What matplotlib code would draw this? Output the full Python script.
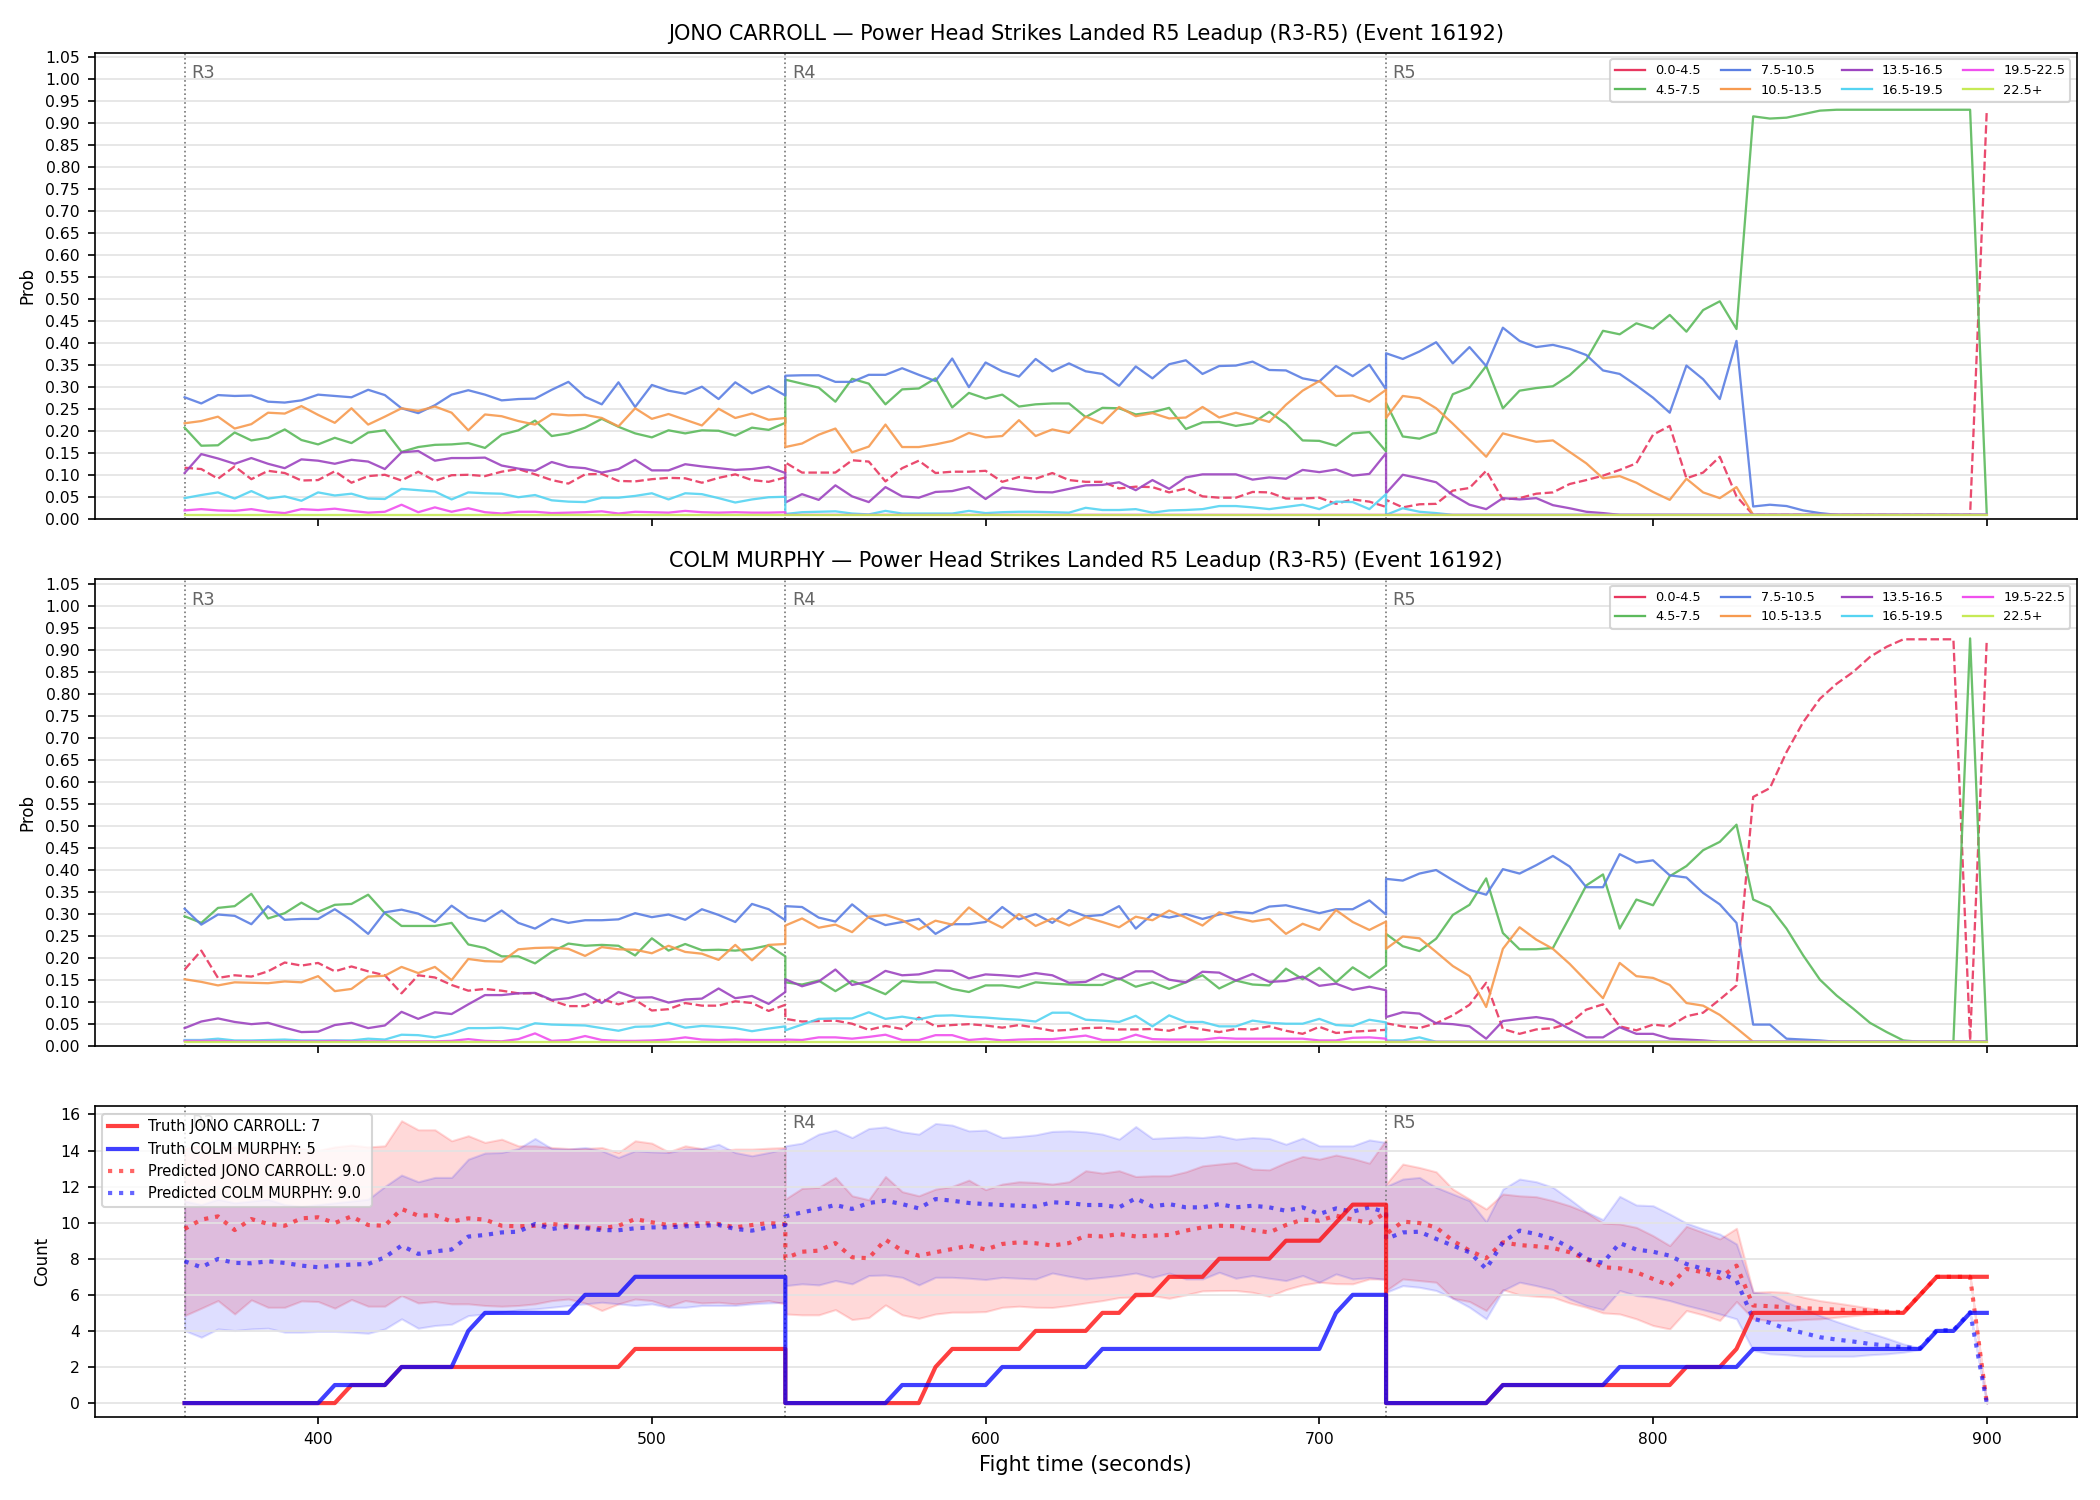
import matplotlib
matplotlib.use("Agg")
import matplotlib.pyplot as plt
import numpy as np
from matplotlib.lines import Line2D

# time grid: 5 s samples, each round sampled end to end (boundary repeated)
rounds = ["R3", "R4", "R5"]
round_starts = [360, 540, 720]
t = np.concatenate([np.arange(s, s + 181, 5) for s in round_starts])

buckets = ["0.0-4.5", "4.5-7.5", "7.5-10.5", "10.5-13.5",
           "13.5-16.5", "16.5-19.5", "19.5-22.5", "22.5+"]
bucket_colors = ["#e8375f", "#5cba5c", "#5b7fe3", "#f79a4f",
                 "#9d45c0", "#55d4f2", "#f050ee", "#c6ea55"]

# ---------------- JONO CARROLL bucket probabilities ----------------
jono_b0 = ([0.117, 0.114, 0.092, 0.120, 0.091, 0.110, 0.105, 0.088, 0.089, 0.109, 0.083, 0.098, 0.101,
            0.088, 0.108, 0.087, 0.100, 0.101, 0.098, 0.108, 0.114, 0.102, 0.089, 0.081, 0.102, 0.103,
            0.087, 0.086, 0.091, 0.094, 0.093, 0.083, 0.094, 0.102, 0.089, 0.085, 0.095]
           + [0.129, 0.106, 0.106, 0.106, 0.134, 0.131, 0.086, 0.116, 0.133, 0.105, 0.108, 0.108, 0.110,
              0.085, 0.096, 0.092, 0.105, 0.089, 0.085, 0.085, 0.070, 0.074, 0.073, 0.061, 0.070, 0.052,
              0.049, 0.049, 0.062, 0.061, 0.047, 0.047, 0.049, 0.035, 0.045, 0.040, 0.028]
           + [0.044, 0.027, 0.034, 0.035, 0.065, 0.071, 0.110, 0.045, 0.048, 0.058, 0.061, 0.080, 0.089,
              0.099, 0.112, 0.127, 0.192, 0.212, 0.093, 0.106, 0.142, 0.052]
           + [0.01] * 14 + [0.93])
jono_b1 = ([0.208, 0.167, 0.168, 0.197, 0.179, 0.185, 0.204, 0.180, 0.170, 0.185, 0.173, 0.197, 0.202,
            0.153, 0.164, 0.169, 0.170, 0.173, 0.162, 0.192, 0.202, 0.224, 0.189, 0.195, 0.208, 0.228,
            0.210, 0.195, 0.186, 0.202, 0.195, 0.202, 0.201, 0.190, 0.208, 0.203, 0.219]
           + [0.317, 0.308, 0.299, 0.267, 0.319, 0.308, 0.261, 0.295, 0.297, 0.320, 0.254, 0.287, 0.274,
              0.283, 0.256, 0.261, 0.263, 0.263, 0.232, 0.253, 0.252, 0.238, 0.243, 0.253, 0.205, 0.220,
              0.221, 0.212, 0.218, 0.244, 0.217, 0.179, 0.178, 0.167, 0.195, 0.198, 0.154]
           + [0.264, 0.188, 0.183, 0.197, 0.284, 0.299, 0.348, 0.252, 0.292, 0.298, 0.302, 0.327, 0.362,
              0.428, 0.420, 0.445, 0.433, 0.464, 0.426, 0.475, 0.495, 0.432, 0.915, 0.910, 0.912, 0.920,
              0.928, 0.930, 0.930, 0.930, 0.930, 0.930, 0.930, 0.930, 0.930, 0.930, 0.010])
jono_b2 = ([0.277, 0.263, 0.282, 0.280, 0.281, 0.267, 0.265, 0.270, 0.283, 0.280, 0.277, 0.294, 0.282,
            0.252, 0.241, 0.259, 0.283, 0.293, 0.283, 0.270, 0.273, 0.274, 0.294, 0.312, 0.278, 0.261,
            0.311, 0.255, 0.305, 0.292, 0.285, 0.301, 0.273, 0.311, 0.286, 0.302, 0.281]
           + [0.326, 0.327, 0.327, 0.312, 0.312, 0.328, 0.328, 0.343, 0.328, 0.314, 0.365, 0.300, 0.356,
              0.336, 0.324, 0.364, 0.336, 0.354, 0.336, 0.330, 0.303, 0.347, 0.320, 0.352, 0.361, 0.330,
              0.348, 0.349, 0.358, 0.339, 0.338, 0.320, 0.313, 0.348, 0.325, 0.351, 0.295]
           + [0.377, 0.364, 0.381, 0.402, 0.354, 0.391, 0.348, 0.435, 0.405, 0.391, 0.396, 0.387, 0.373,
              0.338, 0.330, 0.304, 0.276, 0.242, 0.349, 0.318, 0.273, 0.405, 0.029, 0.033, 0.030, 0.020,
              0.014] + [0.01] * 10)
jono_b3 = ([0.218, 0.223, 0.233, 0.206, 0.216, 0.242, 0.240, 0.257, 0.237, 0.219, 0.252, 0.215, 0.233,
            0.252, 0.246, 0.256, 0.242, 0.202, 0.238, 0.234, 0.223, 0.215, 0.239, 0.236, 0.237, 0.230,
            0.211, 0.252, 0.228, 0.239, 0.226, 0.213, 0.251, 0.230, 0.240, 0.226, 0.230]
           + [0.164, 0.172, 0.192, 0.206, 0.152, 0.165, 0.215, 0.164, 0.164, 0.170, 0.178, 0.196, 0.186,
              0.189, 0.225, 0.189, 0.204, 0.196, 0.233, 0.218, 0.255, 0.234, 0.241, 0.229, 0.231, 0.255,
              0.231, 0.242, 0.232, 0.221, 0.260, 0.292, 0.314, 0.280, 0.281, 0.267, 0.294]
           + [0.230, 0.280, 0.275, 0.252, 0.217, 0.180, 0.142, 0.195, 0.185, 0.176, 0.179, 0.153, 0.127,
              0.093, 0.098, 0.083, 0.062, 0.044, 0.092, 0.061, 0.048, 0.073] + [0.01] * 15)
jono_b4 = ([0.105, 0.148, 0.138, 0.126, 0.139, 0.126, 0.116, 0.136, 0.133, 0.126, 0.135, 0.131, 0.114,
            0.152, 0.155, 0.133, 0.139, 0.139, 0.140, 0.122, 0.115, 0.110, 0.130, 0.119, 0.116, 0.106,
            0.114, 0.135, 0.111, 0.111, 0.125, 0.120, 0.116, 0.112, 0.114, 0.119, 0.105]
           + [0.038, 0.057, 0.044, 0.077, 0.052, 0.039, 0.073, 0.052, 0.049, 0.062, 0.064, 0.073, 0.046,
              0.072, 0.067, 0.062, 0.061, 0.069, 0.077, 0.078, 0.084, 0.066, 0.089, 0.069, 0.095, 0.102,
              0.102, 0.102, 0.090, 0.095, 0.092, 0.112, 0.107, 0.113, 0.099, 0.103, 0.150]
           + [0.059, 0.101, 0.093, 0.084, 0.055, 0.033, 0.023, 0.048, 0.045, 0.048, 0.032, 0.025, 0.017,
              0.014] + [0.01] * 23)
jono_b5 = ([0.048, 0.055, 0.061, 0.047, 0.064, 0.047, 0.052, 0.042, 0.061, 0.054, 0.058, 0.047, 0.046,
            0.069, 0.066, 0.063, 0.045, 0.061, 0.059, 0.058, 0.050, 0.055, 0.043, 0.040, 0.039, 0.049,
            0.049, 0.053, 0.059, 0.045, 0.059, 0.057, 0.048, 0.038, 0.045, 0.050, 0.051]
           + [0.012, 0.016, 0.017, 0.018, 0.013, 0.011, 0.019, 0.013, 0.013, 0.013, 0.013, 0.019, 0.014,
              0.016, 0.017, 0.017, 0.016, 0.015, 0.026, 0.021, 0.021, 0.023, 0.015, 0.020, 0.021, 0.023,
              0.030, 0.030, 0.027, 0.023, 0.028, 0.033, 0.023, 0.040, 0.039, 0.023, 0.057]
           + [0.010, 0.025, 0.017, 0.014] + [0.01] * 33)
jono_b6 = ([0.020, 0.023, 0.020, 0.019, 0.023, 0.017, 0.014, 0.023, 0.021, 0.024, 0.019, 0.015, 0.017,
            0.033, 0.016, 0.027, 0.017, 0.025, 0.016, 0.013, 0.017, 0.017, 0.014, 0.015, 0.016, 0.018,
            0.013, 0.017, 0.016, 0.015, 0.019, 0.016, 0.015, 0.016, 0.015, 0.015, 0.016]
           + [0.01] * 37 + [0.01] * 37)
jono_b7 = [0.01] * 111

# ---------------- COLM MURPHY bucket probabilities ----------------
colm_b0 = ([0.174, 0.217, 0.155, 0.161, 0.158, 0.170, 0.190, 0.183, 0.189, 0.170, 0.181, 0.170, 0.161,
            0.120, 0.161, 0.156, 0.139, 0.126, 0.130, 0.126, 0.120, 0.120, 0.104, 0.091, 0.091, 0.107,
            0.095, 0.105, 0.081, 0.084, 0.098, 0.092, 0.092, 0.102, 0.098, 0.080, 0.094]
           + [0.062, 0.056, 0.057, 0.058, 0.051, 0.037, 0.046, 0.039, 0.065, 0.045, 0.048, 0.050, 0.047,
              0.042, 0.048, 0.042, 0.035, 0.037, 0.041, 0.042, 0.038, 0.038, 0.039, 0.035, 0.045, 0.038,
              0.032, 0.039, 0.038, 0.045, 0.035, 0.028, 0.044, 0.030, 0.033, 0.035, 0.037]
           + [0.052, 0.045, 0.041, 0.052, 0.070, 0.094, 0.144, 0.039, 0.028, 0.038, 0.041, 0.052, 0.083,
              0.095, 0.045, 0.036, 0.049, 0.045, 0.068, 0.076, 0.106, 0.138, 0.566, 0.586, 0.668, 0.736,
              0.789, 0.823, 0.850, 0.884, 0.907, 0.924, 0.924, 0.924, 0.924, 0.013, 0.924])
colm_b1 = ([0.295, 0.280, 0.314, 0.318, 0.346, 0.290, 0.302, 0.326, 0.305, 0.321, 0.323, 0.344, 0.302,
            0.273, 0.273, 0.273, 0.280, 0.231, 0.223, 0.204, 0.204, 0.188, 0.214, 0.233, 0.228, 0.230,
            0.228, 0.206, 0.245, 0.217, 0.232, 0.218, 0.219, 0.217, 0.221, 0.229, 0.204]
           + [0.145, 0.140, 0.149, 0.125, 0.148, 0.134, 0.118, 0.148, 0.145, 0.145, 0.130, 0.123, 0.138,
              0.138, 0.133, 0.145, 0.142, 0.140, 0.139, 0.139, 0.154, 0.135, 0.145, 0.130, 0.145, 0.161,
              0.131, 0.149, 0.140, 0.138, 0.176, 0.152, 0.178, 0.145, 0.179, 0.155, 0.183]
           + [0.255, 0.227, 0.216, 0.244, 0.298, 0.321, 0.381, 0.257, 0.220, 0.220, 0.223, 0.293, 0.365,
              0.390, 0.267, 0.333, 0.320, 0.386, 0.409, 0.445, 0.464, 0.503, 0.333, 0.316, 0.267, 0.206,
              0.151, 0.115, 0.085, 0.053, 0.032, 0.013, 0.010, 0.010, 0.010, 0.926, 0.010])
colm_b2 = ([0.312, 0.276, 0.299, 0.296, 0.277, 0.318, 0.287, 0.289, 0.289, 0.311, 0.286, 0.255, 0.304,
            0.310, 0.301, 0.282, 0.319, 0.292, 0.284, 0.308, 0.280, 0.267, 0.289, 0.280, 0.286, 0.286,
            0.288, 0.302, 0.293, 0.299, 0.287, 0.311, 0.298, 0.282, 0.323, 0.311, 0.286]
           + [0.318, 0.316, 0.292, 0.283, 0.322, 0.292, 0.275, 0.282, 0.289, 0.255, 0.277, 0.277, 0.282,
              0.316, 0.288, 0.300, 0.280, 0.309, 0.295, 0.298, 0.318, 0.267, 0.300, 0.292, 0.300, 0.289,
              0.299, 0.305, 0.302, 0.317, 0.320, 0.311, 0.302, 0.311, 0.311, 0.331, 0.299]
           + [0.380, 0.376, 0.392, 0.400, 0.377, 0.355, 0.344, 0.402, 0.392, 0.411, 0.432, 0.408, 0.361,
              0.361, 0.436, 0.417, 0.422, 0.388, 0.383, 0.348, 0.322, 0.280, 0.049, 0.049, 0.017, 0.015,
              0.013] + [0.01] * 10)
colm_b3 = ([0.152, 0.146, 0.138, 0.145, 0.144, 0.143, 0.147, 0.145, 0.159, 0.125, 0.130, 0.158, 0.160,
            0.180, 0.166, 0.180, 0.150, 0.198, 0.193, 0.192, 0.220, 0.223, 0.224, 0.221, 0.205, 0.225,
            0.220, 0.219, 0.211, 0.228, 0.214, 0.210, 0.196, 0.230, 0.195, 0.230, 0.232]
           + [0.274, 0.290, 0.269, 0.276, 0.259, 0.294, 0.298, 0.286, 0.265, 0.285, 0.276, 0.315, 0.288,
              0.269, 0.300, 0.273, 0.290, 0.274, 0.293, 0.282, 0.270, 0.294, 0.286, 0.308, 0.292, 0.274,
              0.304, 0.292, 0.283, 0.289, 0.255, 0.278, 0.264, 0.309, 0.282, 0.264, 0.283]
           + [0.221, 0.249, 0.245, 0.214, 0.182, 0.159, 0.089, 0.221, 0.270, 0.242, 0.221, 0.187, 0.148,
              0.109, 0.189, 0.159, 0.155, 0.139, 0.098, 0.092, 0.071, 0.041] + [0.01] * 15)
colm_b4 = ([0.041, 0.056, 0.063, 0.055, 0.050, 0.053, 0.042, 0.032, 0.033, 0.048, 0.053, 0.041, 0.047,
            0.078, 0.062, 0.077, 0.073, 0.095, 0.116, 0.116, 0.120, 0.121, 0.105, 0.109, 0.119, 0.098,
            0.123, 0.110, 0.111, 0.099, 0.106, 0.108, 0.131, 0.109, 0.114, 0.096, 0.123]
           + [0.152, 0.136, 0.147, 0.174, 0.139, 0.147, 0.171, 0.161, 0.163, 0.172, 0.171, 0.154, 0.163,
              0.161, 0.158, 0.166, 0.161, 0.144, 0.146, 0.164, 0.152, 0.170, 0.170, 0.151, 0.145, 0.169,
              0.167, 0.149, 0.164, 0.146, 0.148, 0.158, 0.137, 0.142, 0.128, 0.135, 0.127]
           + [0.066, 0.077, 0.074, 0.052, 0.050, 0.045, 0.017, 0.057, 0.062, 0.066, 0.060, 0.039, 0.020,
              0.020, 0.043, 0.028, 0.028, 0.017, 0.015, 0.013] + [0.01] * 17)
colm_b5 = ([0.014, 0.014, 0.017, 0.013, 0.013, 0.014, 0.015, 0.013, 0.013, 0.013, 0.013, 0.017, 0.015,
            0.026, 0.025, 0.020, 0.028, 0.041, 0.041, 0.042, 0.039, 0.052, 0.049, 0.048, 0.047, 0.041,
            0.035, 0.044, 0.045, 0.053, 0.042, 0.046, 0.044, 0.041, 0.034, 0.040, 0.045]
           + [0.036, 0.049, 0.062, 0.063, 0.063, 0.077, 0.062, 0.067, 0.061, 0.069, 0.070, 0.067, 0.065,
              0.062, 0.060, 0.056, 0.076, 0.076, 0.060, 0.058, 0.055, 0.069, 0.045, 0.070, 0.055, 0.055,
              0.045, 0.045, 0.058, 0.053, 0.051, 0.051, 0.062, 0.048, 0.046, 0.060, 0.054]
           + [0.013, 0.013, 0.020] + [0.01] * 34)
colm_b6 = ([0.012, 0.012, 0.012, 0.011, 0.011, 0.011, 0.011, 0.011, 0.011, 0.012, 0.011, 0.011, 0.011,
            0.011, 0.011, 0.011, 0.012, 0.016, 0.012, 0.011, 0.016, 0.029, 0.012, 0.014, 0.023, 0.014,
            0.012, 0.012, 0.013, 0.015, 0.020, 0.015, 0.014, 0.015, 0.014, 0.014, 0.014]
           + [0.015, 0.014, 0.020, 0.020, 0.017, 0.021, 0.026, 0.014, 0.014, 0.025, 0.025, 0.014, 0.017,
              0.013, 0.015, 0.016, 0.016, 0.020, 0.024, 0.014, 0.014, 0.026, 0.016, 0.015, 0.015, 0.015,
              0.019, 0.017, 0.017, 0.017, 0.017, 0.017, 0.013, 0.013, 0.019, 0.020, 0.017]
           + [0.01] * 37)
colm_b7 = [0.01] * 111

# ---------------- cumulative counts ----------------
jono_truth = ([0, 0, 0, 0, 0, 0, 0, 0, 0, 0, 1, 1, 1, 2, 2, 2, 2, 2, 2, 2, 2, 2, 2, 2, 2, 2, 2,
               3, 3, 3, 3, 3, 3, 3, 3, 3, 3]
              + [0, 0, 0, 0, 0, 0, 0, 0, 0, 2, 3, 3, 3, 3, 3, 4, 4, 4, 4, 5, 5, 6, 6, 7, 7, 7, 8,
                 8, 8, 8, 9, 9, 9, 10, 11, 11, 11]
              + [0, 0, 0, 0, 0, 0, 0, 1, 1, 1, 1, 1, 1, 1, 1, 1, 1, 1, 2, 2, 2, 3, 5, 5, 5, 5, 5,
                 5, 5, 5, 5, 5, 6, 7, 7, 7, 7])
colm_truth = ([0, 0, 0, 0, 0, 0, 0, 0, 0, 1, 1, 1, 1, 2, 2, 2, 2, 4, 5, 5, 5, 5, 5, 5, 6, 6, 6,
               7, 7, 7, 7, 7, 7, 7, 7, 7, 7]
              + [0, 0, 0, 0, 0, 0, 0, 1, 1, 1, 1, 1, 1, 2, 2, 2, 2, 2, 2, 3, 3, 3, 3, 3, 3, 3, 3,
                 3, 3, 3, 3, 3, 3, 5, 6, 6, 6]
              + [0, 0, 0, 0, 0, 0, 0, 1, 1, 1, 1, 1, 1, 1, 2, 2, 2, 2, 2, 2, 2, 2, 3, 3, 3, 3, 3,
                 3, 3, 3, 3, 3, 3, 4, 4, 5, 5])

jono_pred = ([9.65, 10.17, 10.35, 9.59, 10.20, 9.93, 9.83, 10.24, 10.30, 9.98, 10.35, 9.87, 9.83,
              10.76, 10.39, 10.42, 10.06, 10.24, 10.17, 9.83, 9.80, 9.83, 9.93, 9.83, 9.74, 9.69,
              9.83, 10.20, 10.02, 9.87, 9.89, 9.98, 9.93, 9.74, 9.87, 9.98, 9.91]
             + [8.03, 8.39, 8.45, 8.87, 8.08, 8.03, 9.06, 8.45, 8.17, 8.36, 8.54, 8.73, 8.51, 8.82,
                8.91, 8.86, 8.73, 8.87, 9.28, 9.24, 9.37, 9.24, 9.28, 9.32, 9.56, 9.74, 9.83, 9.80,
                9.59, 9.46, 9.87, 10.17, 10.11, 10.39, 10.17, 9.98, 10.57]
             + [9.37, 10.06, 9.98, 9.74, 9.00, 8.45, 8.03, 8.91, 8.76, 8.69, 8.60, 8.36, 7.99, 7.53,
                7.47, 7.25, 6.88, 6.51, 7.44, 7.25, 6.92, 7.62, 5.41, 5.37, 5.31, 5.26, 5.22, 5.18,
                5.15, 5.13, 5.07, 5.04, 6.0, 7.0, 7.0, 7.0, 0.0])
jono_hi = ([14.1, 14.3, 14.0, 14.2, 14.1, 14.0, 14.2, 14.1, 14.0, 14.2, 14.3, 14.2, 14.26, 15.65,
            15.15, 15.15, 14.54, 14.82, 14.45, 14.63, 14.26, 14.26, 14.17, 14.11, 14.11, 14.17,
            13.89, 14.54, 14.41, 13.93, 14.26, 14.11, 13.99, 14.08, 14.08, 14.13, 14.17]
           + [11.31, 11.90, 11.96, 12.51, 11.49, 11.27, 12.56, 11.72, 11.49, 11.86, 12.01, 12.36,
              11.83, 12.14, 12.27, 12.23, 12.14, 12.27, 12.88, 12.75, 12.88, 12.56, 12.60, 12.60,
              12.82, 13.15, 13.25, 13.34, 12.97, 12.93, 13.34, 13.67, 13.52, 13.75, 13.56, 13.30, 14.59]
           + [12.14, 13.25, 13.06, 12.82, 11.86, 11.31, 10.76, 11.59, 11.49, 11.44, 11.22, 10.94,
              10.57, 9.98, 9.93, 9.74, 9.28, 8.73, 9.80, 9.46, 9.10, 9.69, 6.14, 6.18, 6.14, 5.87,
              5.68, 5.55, 5.41, 5.26, 5.13, 5.04, 6.0, 7.0, 7.0, 7.0, 0.0])
jono_lo = ([4.85, 5.26, 5.68, 4.94, 5.72, 5.31, 5.31, 5.66, 5.63, 5.26, 5.74, 5.37, 5.37, 5.96,
            5.55, 5.63, 5.50, 5.50, 5.41, 5.37, 5.41, 5.50, 5.68, 5.77, 5.55, 5.13, 5.50, 5.77,
            5.68, 5.37, 5.68, 5.55, 5.59, 5.50, 5.59, 5.68, 5.50]
           + [4.94, 4.89, 4.89, 5.18, 4.63, 4.74, 5.44, 4.89, 4.70, 4.94, 5.04, 5.04, 5.07, 5.31,
              5.37, 5.31, 5.30, 5.41, 5.55, 5.68, 5.85, 5.89, 5.96, 5.81, 6.00, 6.22, 6.24, 6.24,
              6.14, 5.92, 6.29, 6.55, 6.70, 6.62, 6.61, 6.88, 6.88]
           + [6.24, 6.88, 6.79, 6.70, 5.81, 5.63, 5.13, 6.29, 6.00, 5.92, 5.87, 5.55, 5.31, 5.00,
              4.94, 4.67, 4.30, 4.11, 5.13, 4.89, 4.58, 5.63, 4.67, 4.58, 4.58, 4.63, 4.67, 4.76,
              4.85, 4.93, 5.00, 5.04, 6.0, 7.0, 7.0, 7.0, 0.0])

colm_pred = ([7.86, 7.53, 7.99, 7.77, 7.75, 7.86, 7.77, 7.62, 7.53, 7.62, 7.68, 7.71, 8.08, 8.73,
              8.27, 8.41, 8.51, 9.23, 9.32, 9.46, 9.50, 9.93, 9.65, 9.78, 9.69, 9.59, 9.58, 9.69,
              9.74, 9.74, 9.80, 9.83, 9.87, 9.65, 9.56, 9.74, 9.87]
             + [10.35, 10.57, 10.76, 10.98, 10.76, 11.09, 11.22, 11.03, 10.79, 11.31, 11.22, 11.09,
                11.03, 10.98, 10.94, 10.90, 11.13, 11.09, 10.98, 10.98, 10.85, 11.35, 10.90, 11.03,
                10.85, 10.85, 11.03, 10.85, 10.94, 10.85, 10.66, 10.85, 10.48, 10.79, 10.61, 10.85, 10.57]
             + [9.10, 9.46, 9.50, 9.10, 8.73, 8.36, 7.44, 8.91, 9.56, 9.37, 9.10, 8.63, 7.99, 7.77,
                8.87, 8.51, 8.39, 8.17, 7.71, 7.44, 7.25, 6.79, 4.67, 4.45, 4.11, 3.89, 3.65, 3.52,
                3.41, 3.28, 3.19, 3.10, 3.04, 4.04, 4.04, 5.04, 0.0])
colm_hi = ([11.2, 11.0, 11.3, 11.1, 11.2, 11.3, 11.0, 10.9, 11.0, 11.1, 11.2, 11.3, 12.01, 12.64,
            12.27, 12.51, 12.51, 13.52, 13.86, 13.89, 14.11, 14.67, 14.11, 14.08, 14.17, 13.99,
            13.62, 13.99, 13.93, 13.89, 14.08, 14.11, 14.35, 13.89, 13.71, 13.89, 14.11]
           + [14.26, 14.41, 14.91, 15.13, 14.72, 15.22, 15.31, 15.04, 14.91, 15.50, 15.41, 15.09,
              15.13, 14.72, 14.78, 14.87, 15.06, 15.09, 15.04, 14.91, 14.63, 15.33, 14.67, 14.72,
              14.76, 14.72, 14.82, 14.63, 14.72, 14.67, 14.35, 14.69, 14.26, 14.26, 14.26, 14.59, 14.45]
           + [12.01, 12.42, 12.51, 11.96, 11.59, 11.22, 10.06, 11.86, 12.42, 12.27, 11.96, 11.31,
              10.61, 10.17, 11.46, 10.98, 10.94, 10.48, 9.98, 9.65, 9.37, 8.82, 6.14, 6.05, 5.59,
              5.22, 4.85, 4.52, 4.21, 3.89, 3.60, 3.28, 3.04, 4.0, 4.0, 5.0, 0.0])
colm_lo = ([4.02, 3.65, 4.11, 4.02, 4.11, 4.15, 3.93, 3.93, 3.97, 3.97, 3.93, 3.87, 4.11, 4.67,
            4.15, 4.30, 4.37, 4.85, 4.94, 5.04, 5.17, 5.22, 5.31, 5.41, 5.50, 5.59, 5.50, 5.41,
            5.50, 5.31, 5.31, 5.41, 5.41, 5.41, 5.50, 5.55, 5.59]
           + [6.51, 6.61, 6.55, 6.79, 6.61, 7.07, 7.10, 6.97, 6.55, 6.97, 6.97, 6.92, 6.85, 6.97,
              6.92, 6.88, 7.21, 7.03, 6.88, 6.97, 7.07, 7.21, 6.97, 7.21, 6.88, 6.88, 7.25, 6.92,
              7.07, 6.92, 6.79, 7.07, 6.70, 7.16, 6.88, 6.96, 6.85]
           + [6.14, 6.51, 6.42, 6.24, 5.81, 5.31, 4.67, 6.24, 6.70, 6.51, 6.29, 5.77, 5.41, 5.18,
              6.24, 5.96, 5.87, 5.68, 5.41, 5.18, 4.94, 4.67, 2.92, 2.73, 2.68, 2.60, 2.60, 2.60,
              2.60, 2.68, 2.73, 2.82, 2.97, 4.0, 4.0, 5.0, 0.0])

jono_series = [jono_b0, jono_b1, jono_b2, jono_b3, jono_b4, jono_b5, jono_b6, jono_b7]
colm_series = [colm_b0, colm_b1, colm_b2, colm_b3, colm_b4, colm_b5, colm_b6, colm_b7]


fig = plt.figure(figsize=(14, 10), dpi=150)
gs = fig.add_gridspec(3, 1, height_ratios=[3, 3, 2], left=0.045, right=0.989,
                      top=0.965, bottom=0.055, hspace=0.145)
ax1 = fig.add_subplot(gs[0])
ax2 = fig.add_subplot(gs[1], sharex=ax1)
ax3 = fig.add_subplot(gs[2], sharex=ax1)


def round_marks(ax):
    for s, name in zip(round_starts, rounds):
        ax.axvline(s, color="#777777", ls=":", lw=0.8, zorder=1)
        ax.text(s + 2, 0.975, name, transform=ax.get_xaxis_transform(),
                ha="left", va="top", fontsize=8.5, color="#666666")


def prob_panel(ax, series, title):
    for i, (vals, col) in enumerate(zip(series, bucket_colors)):
        ls = "--" if i == 0 else "-"
        ax.plot(t, vals, color=col, lw=1.1, ls=ls, alpha=0.9, zorder=3)
    ax.set_ylim(0, 1.06)
    ax.set_yticks(np.arange(0, 1.051, 0.05))
    ax.yaxis.set_major_formatter(matplotlib.ticker.FormatStrFormatter("%.2f"))
    ax.grid(axis="y", color="#e3e3e3", lw=0.8, zorder=0)
    ax.set_ylabel("Prob", fontsize=8)
    ax.set_title(title, fontsize=10)
    ax.tick_params(labelsize=7.5)
    round_marks(ax)
    handles = [Line2D([0], [0], color=c, lw=1.1) for c in bucket_colors]
    ax.legend(handles, buckets, loc="upper right", ncol=4, fontsize=6.2,
              handlelength=2.3, columnspacing=1.5)
    plt.setp(ax.get_xticklabels(), visible=False)


prob_panel(ax1, jono_series,
           "JONO CARROLL \u2014 Power Head Strikes Landed R5 Leadup (R3-R5) (Event 16192)")
prob_panel(ax2, colm_series,
           "COLM MURPHY \u2014 Power Head Strikes Landed R5 Leadup (R3-R5) (Event 16192)")

# bottom: truth vs predicted counts
ax3.fill_between(t, jono_lo, jono_hi, color="red", alpha=0.15, lw=1, zorder=1)
ax3.fill_between(t, colm_lo, colm_hi, color="blue", alpha=0.13, lw=1, zorder=1)
ax3.plot(t, jono_truth, color="red", lw=2, alpha=0.75, label="Truth JONO CARROLL: 7", zorder=4)
ax3.plot(t, colm_truth, color="blue", lw=2, alpha=0.75, label="Truth COLM MURPHY: 5", zorder=4)
ax3.plot(t, jono_pred, color="red", lw=2, ls=":", alpha=0.6,
         label="Predicted JONO CARROLL: 9.0", zorder=3)
ax3.plot(t, colm_pred, color="blue", lw=2, ls=":", alpha=0.6,
         label="Predicted COLM MURPHY: 9.0", zorder=3)
ax3.set_ylim(-0.8, 16.45)
ax3.set_yticks(np.arange(0, 17, 2))
ax3.grid(axis="y", color="#e3e3e3", lw=0.8, zorder=0)
ax3.set_ylabel("Count", fontsize=8)
ax3.set_xlabel("Fight time (seconds)", fontsize=10)
ax3.tick_params(labelsize=7.5)
round_marks(ax3)
ax3.legend(loc="upper left", fontsize=7)

ax1.set_xlim(333, 927)

fig.savefig("out.png", dpi=150)
